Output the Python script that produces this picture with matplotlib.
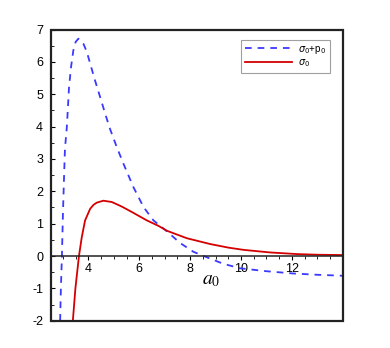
import matplotlib
matplotlib.use("Agg")
import matplotlib.pyplot as plt
from matplotlib.patches import Rectangle
from matplotlib.ticker import MultipleLocator

plt.rcParams["font.family"] = ["Liberation Sans", "DejaVu Sans"]
plt.rcParams["axes.unicode_minus"] = False

# sigma_0 + p_0 (blue dashed)
sp_x = [2.89, 2.92, 2.96, 3.0, 3.04, 3.08, 3.15, 3.19, 3.24, 3.32, 3.41, 3.50, 3.61,
        3.80, 3.94, 4.07, 4.26, 4.46, 4.66, 4.85, 5.12, 5.38, 5.77, 6.17, 6.56, 7.09,
        7.61, 8.13, 8.66, 9.3, 9.97, 11.0, 12.05, 13.0, 14.0]
sp_y = [-2.0, -1.0, 0.0, 1.3, 2.35, 3.32, 3.95, 4.5, 5.23, 5.85, 6.36, 6.62, 6.72,
        6.57, 6.31, 5.95, 5.43, 4.92, 4.40, 3.93, 3.36, 2.85, 2.13, 1.51, 1.10, 0.76,
        0.40, 0.13, -0.04, -0.24, -0.38, -0.47, -0.54, -0.58, -0.61]

# sigma_0 (red solid)
s_x = [3.39, 3.49, 3.63, 3.74, 3.87, 4.07, 4.2, 4.33, 4.59, 4.92, 5.31, 5.71, 6.3, 6.76,
       7.09, 7.87, 8.79, 9.5, 10.1, 11.15, 12.2, 13.0, 14.0]
s_y = [-2.0, -1.0, 0.0, 0.58, 1.10, 1.46, 1.58, 1.65, 1.71, 1.67, 1.53, 1.36, 1.10, 0.93,
       0.78, 0.55, 0.37, 0.26, 0.19, 0.11, 0.06, 0.04, 0.03]

x_ticks = [4, 6, 8, 10, 12]
y_ticks = [-2, -1, 0, 1, 2, 3, 4, 5, 6, 7]

fig = plt.figure(figsize=(3.9, 3.48), dpi=100)
ax = fig.add_axes([0.132, 0.0784, 0.747, 0.8366])

ax.plot(sp_x, sp_y, color="#3a3aff", lw=1.3, ls=(0, (3.7, 3.3)), label=r"$\sigma_0$+p$_0$")
ax.plot(s_x, s_y, color="#d40000", lw=1.3, label=r"$\sigma_0$")

ax.set_xlim(2.55, 14)
ax.set_ylim(-2, 7)

# x axis drawn through y = 0, frame drawn separately
ax.spines["bottom"].set_position(("data", 0))
for s in ax.spines.values():
    s.set_linewidth(1.1)
    s.set_color("#222222")
ax.add_patch(Rectangle((0, 0), 1, 1, transform=ax.transAxes, fill=False,
                       lw=1.6, edgecolor="#222222", zorder=5, clip_on=False))

ax.set_xticks(x_ticks)
ax.set_yticks(y_ticks)
ax.xaxis.set_minor_locator(MultipleLocator(0.5))
ax.yaxis.set_minor_locator(MultipleLocator(0.5))
ax.tick_params(axis="x", which="major", direction="out", length=3, width=0.8, pad=2, labelsize=9)
ax.tick_params(axis="x", which="minor", direction="out", length=2, width=0.6)
ax.tick_params(axis="y", which="major", direction="in", length=3, width=0.8, pad=6, labelsize=9)
ax.tick_params(axis="y", which="minor", direction="in", length=2, width=0.6)

ax.text(8.45, -0.5, r"$a_{\mathit{0}}$", fontsize=14, math_fontfamily="stix", ha="left", va="top")

leg = ax.legend(loc="upper right", bbox_to_anchor=(0.955, 0.965), fontsize=7,
                handlelength=4.8, frameon=True, fancybox=False, borderpad=0.4,
                labelspacing=0.2, handletextpad=0.6, borderaxespad=0)
leg.get_frame().set_edgecolor("#888888")
leg.get_frame().set_linewidth(0.8)

fig.savefig("out.png", dpi=100)
